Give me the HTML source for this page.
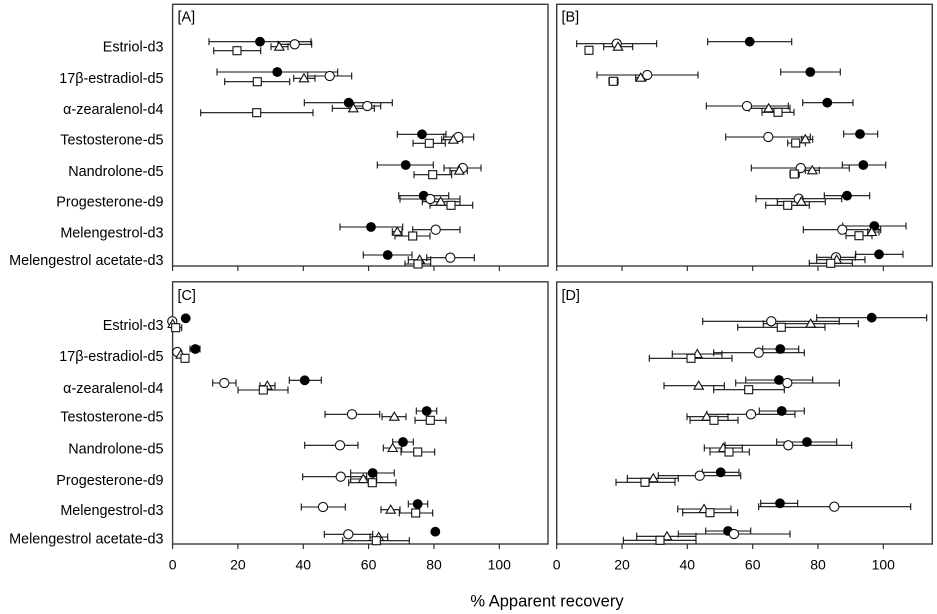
<!DOCTYPE html>
<html><head><meta charset="utf-8"><style>
html,body{margin:0;padding:0;background:#fff;}
svg{display:block;}
text{font-family:"Liberation Sans",Arial,sans-serif;fill:#000;}
</style></head><body>
<svg width="937" height="614" viewBox="0 0 937 614" xmlns="http://www.w3.org/2000/svg">
<!-- frames -->
<g fill="none" stroke="#3a3a3a" stroke-width="1.4">
<rect x="172.6" y="4.3" width="375.4" height="261.7"/>
<rect x="556.7" y="4.3" width="375.6" height="261.7"/>
<rect x="172.6" y="281.8" width="375.4" height="262.2"/>
<rect x="556.7" y="282" width="375.6" height="262"/>
</g>
<!-- ticks -->
<g stroke="#222" stroke-width="1.1">
<path d="M172.6 266V271M237.9 266V271M303.3 266V271M368.6 266V271M434 266V271M499.3 266V271"/>
<path d="M556.7 266V271M622 266V271M687.3 266V271M752.7 266V271M818 266V271M883.3 266V271"/>
<path d="M172.6 544V549M237.9 544V549M303.3 544V549M368.6 544V549M434 544V549M499.3 544V549"/>
<path d="M556.7 544V549M622 544V549M687.3 544V549M752.7 544V549M818 544V549M883.3 544V549"/>
</g>
<!-- tick labels -->
<g font-size="14" text-anchor="middle">
<text x="172.6" y="569.5">0</text><text x="237.9" y="569.5">20</text><text x="303.3" y="569.5">40</text><text x="368.6" y="569.5">60</text><text x="434" y="569.5">80</text><text x="499.3" y="569.5">100</text>
<text x="556.7" y="569.5">0</text><text x="622" y="569.5">20</text><text x="687.3" y="569.5">40</text><text x="752.7" y="569.5">60</text><text x="818" y="569.5">80</text><text x="883.3" y="569.5">100</text>
</g>
<text x="547" y="606.5" font-size="16.5" text-anchor="middle">% Apparent recovery</text>
<!-- panel letters -->
<g font-size="14.4">
<text x="177.5" y="21.5">[A]</text>
<text x="561.5" y="21.5">[B]</text>
<text x="177.5" y="300">[C]</text>
<text x="561.5" y="300">[D]</text>
</g>
<!-- y labels -->
<g font-size="14.4" text-anchor="end">
<text x="163.5" y="51.7">Estriol-d3</text>
<text x="163.5" y="83">17β-estradiol-d5</text>
<text x="163.5" y="114">α-zearalenol-d4</text>
<text x="163.5" y="144.7">Testosterone-d5</text>
<text x="163.5" y="176">Nandrolone-d5</text>
<text x="163.5" y="206.7">Progesterone-d9</text>
<text x="163.5" y="237.7">Melengestrol-d3</text>
<text x="163.5" y="265">Melengestrol acetate-d3</text>
<text x="163.5" y="330">Estriol-d3</text>
<text x="163.5" y="361">17β-estradiol-d5</text>
<text x="163.5" y="393">α-zearalenol-d4</text>
<text x="163.5" y="421.7">Testosterone-d5</text>
<text x="163.5" y="453.3">Nandrolone-d5</text>
<text x="163.5" y="485">Progesterone-d9</text>
<text x="163.5" y="515">Melengestrol-d3</text>
<text x="163.5" y="543.3">Melengestrol acetate-d3</text>
</g>

<!-- error bars -->
<g fill="none" stroke="#111" stroke-width="1.1">
<!-- Panel A -->
<path d="M209 41.7H311M209 38.2V45.2M311 38.2V45.2
M278 44.3H311.7M278 40.8V47.8M311.7 40.8V47.8
M271 46.7H288M271 43.2V50.2M288 43.2V50.2
M213.7 50.7H260.7M213.7 47.2V54.2M260.7 47.2V54.2
M217 72H337.7M217 68.5V75.5M337.7 68.5V75.5
M307.7 76H351.7M307.7 72.5V79.5M351.7 72.5V79.5
M293.7 78.3H315M293.7 74.8V81.8M315 74.8V81.8
M224.7 81.7H289.7M224.7 78.2V85.2M289.7 78.2V85.2
M304.3 102.7H392.3M304.3 99.2V106.2M392.3 99.2V106.2
M354 106H380.7M354 102.5V109.5M380.7 102.5V109.5
M332.3 108.3H374.3M332.3 104.8V111.8M374.3 104.8V111.8
M200.7 112.7H313M200.7 109.2V116.2M313 109.2V116.2
M397.3 134.3H446M397.3 130.8V137.8M446 130.8V137.8
M443.7 137H473.7M443.7 133.5V140.5M473.7 133.5V140.5
M441.7 139.7H462.7M441.7 136.2V143.2M462.7 136.2V143.2
M413 143.3H445.3M413 139.8V146.8M445.3 139.8V146.8
M377.3 165H433.3M377.3 161.5V168.5M433.3 161.5V168.5
M444 168H481M444 164.5V171.5M481 164.5V171.5
M450 170.7H467.3M450 167.2V174.2M467.3 167.2V174.2
M414 174.7H451.7M414 171.2V178.2M451.7 171.2V178.2
M398.7 195.7H448.7M398.7 192.2V199.2M448.7 192.2V199.2
M400 199H460M400 195.5V202.5M460 195.5V202.5
M422.3 201.7H460M422.3 198.2V205.2M460 198.2V205.2
M430 205.3H472.7M430 201.8V208.8M472.7 201.8V208.8
M340 227H402.7M340 223.5V230.5M402.7 223.5V230.5
M412.7 229.7H460M412.7 226.2V233.2M460 226.2V233.2
M392.3 231.7H402M392.3 228.2V235.2M402 228.2V235.2
M395 236H430M395 232.5V239.5M430 232.5V239.5
M363.3 255H412M363.3 251.5V258.5M412 251.5V258.5
M426.7 257.7H474.3M426.7 254.2V261.2M474.3 254.2V261.2
M408.3 259.7H430.7M408.3 256.2V263.2M430.7 256.2V263.2
M405 264H430.7M405 260.5V266M430.7 260.5V266"/>
<!-- Panel B -->
<path d="M707.7 41.7H791.7M707.7 38.2V45.2M791.7 38.2V45.2
M576.7 43.7H656.7M576.7 40.2V47.2M656.7 40.2V47.2
M603.7 46.7H632.7M603.7 43.2V50.2M632.7 43.2V50.2
M780.7 72H840.3M780.7 68.5V75.5M840.3 68.5V75.5
M597 75H698M597 71.5V78.5M698 71.5V78.5
M635.7 77.7H646M635.7 74.2V81.2M646 74.2V81.2
M609 81.3H618M609 77.8V84.8M618 77.8V84.8
M802.7 102.7H853M802.7 99.2V106.2M853 99.2V106.2
M706.3 106H788.3M706.3 102.5V109.5M788.3 102.5V109.5
M749 108.3H790M749 104.8V111.8M790 104.8V111.8
M762 112.3H794M762 108.8V115.8M794 108.8V115.8
M843.7 134H877.7M843.7 130.5V137.5M877.7 130.5V137.5
M725.7 137H810.3M725.7 133.5V140.5M810.3 133.5V140.5
M801.7 139.3H812.7M801.7 135.8V142.8M812.7 135.8V142.8
M787.7 143H805.3M787.7 139.5V146.5M805.3 139.5V146.5
M842.3 165H885.7M842.3 161.5V168.5M885.7 161.5V168.5
M751.3 168H849.3M751.3 164.5V171.5M849.3 164.5V171.5
M805.3 170.3H819.3M805.3 166.8V173.8M819.3 166.8V173.8
M790 174H799.3M790 170.5V177.5M799.3 170.5V177.5
M824.3 195.7H869.7M824.3 192.2V199.2M869.7 192.2V199.2
M756 198.7H841.7M756 195.2V202.2M841.7 195.2V202.2
M777.3 201.7H825.3M777.3 198.2V205.2M825.3 198.2V205.2
M765.7 205.3H809.3M765.7 201.8V208.8M809.3 201.8V208.8
M842.7 226H906M842.7 222.5V229.5M906 222.5V229.5
M803.3 229.7H880.7M803.3 226.2V233.2M880.7 226.2V233.2
M867.7 232H879M867.7 228.5V235.5M879 228.5V235.5
M846 235.7H872M846 232.2V239.2M872 232.2V239.2
M855.7 254.3H903M855.7 250.8V257.8M903 250.8V257.8
M816.7 257.3H855.3M816.7 253.8V260.8M855.3 253.8V260.8
M816.7 259.7H865M816.7 256.2V263.2M865 256.2V263.2
M809.3 263.3H852.3M809.3 259.8V266M852.3 259.8V266"/>
<!-- Panel C -->
<path d="M170 327.7H181.7M181.7 324.2V331.2
M190 349H200M190 345.5V352.5M200 345.5V352.5
M182 358.3H188M188 354.8V361.8
M289.3 380.3H321.3M289.3 376.8V383.8M321.3 376.8V383.8
M212.7 383H236M212.7 379.5V386.5M236 379.5V386.5
M260 385.7H275M260 382.2V389.2M275 382.2V389.2
M238 390H288M238 386.5V393.5M288 386.5V393.5
M416.3 411H436.7M416.3 407.5V414.5M436.7 407.5V414.5
M325 414.3H379.7M325 410.8V417.8M379.7 410.8V417.8
M382 416.7H406M382 413.2V420.2M406 413.2V420.2
M415 420.3H446M415 416.8V423.8M446 416.8V423.8
M392.7 442H413.3M392.7 438.5V445.5M413.3 438.5V445.5
M304.7 445.3H358M304.7 441.8V448.8M358 441.8V448.8
M383.3 448H401.7M383.3 444.5V451.5M401.7 444.5V451.5
M401 452H434.7M401 448.5V455.5M434.7 448.5V455.5
M350.7 473H394.3M350.7 469.5V476.5M394.3 469.5V476.5
M302.7 476.7H366.7M302.7 473.2V480.2M366.7 473.2V480.2
M350.7 479H376.7M350.7 475.5V482.5M376.7 475.5V482.5
M348.7 482.7H396M348.7 479.2V486.2M396 479.2V486.2
M408.3 504H427.7M408.3 500.5V507.5M427.7 500.5V507.5
M301.3 507H345.3M301.3 503.5V510.5M345.3 503.5V510.5
M381 509.7H400M381 506.2V513.2M400 506.2V513.2
M399.3 513H432.7M399.3 509.5V516.5M432.7 509.5V516.5
M324.3 534.3H372.7M324.3 530.8V537.8M372.7 530.8V537.8
M370 537H387.7M370 533.5V540.5M387.7 533.5V540.5
M342.7 540.7H409.3M342.7 537.2V544M409.3 537.2V544"/>
<!-- Panel D -->
<path d="M816.7 317.7H926.7M816.7 314.2V321.2M926.7 314.2V321.2
M702.7 321.3H839.3M702.7 317.8V324.8M839.3 317.8V324.8
M763.3 323.7H858.3M763.3 320.2V327.2M858.3 320.2V327.2
M737.7 327.3H825M737.7 323.8V330.8M825 323.8V330.8
M762.7 349H798.7M762.7 345.5V352.5M798.7 345.5V352.5
M713.7 352.7H804.3M713.7 349.2V356.2M804.3 349.2V356.2
M672.3 354H722M672.3 350.5V357.5M722 350.5V357.5
M649.3 358.3H732M649.3 354.8V361.8M732 354.8V361.8
M745.7 380H812.7M745.7 376.5V383.5M812.7 376.5V383.5
M735.7 383H839.3M735.7 379.5V386.5M839.3 379.5V386.5
M664 385.7H724.3M664 382.2V389.2M724.3 382.2V389.2
M713.7 389.7H784.3M713.7 386.2V393.2M784.3 386.2V393.2
M759.3 411H804.3M759.3 407.5V414.5M804.3 407.5V414.5
M707 414.3H795M707 410.8V417.8M795 410.8V417.8
M687 416.7H728M687 413.2V420.2M728 413.2V420.2
M690 420.3H738M690 416.8V423.8M738 416.8V423.8
M776.7 442H836.7M776.7 438.5V445.5M836.7 438.5V445.5
M725 445.3H851.7M725 441.8V448.8M851.7 441.8V448.8
M704.3 448H742.3M704.3 444.5V451.5M742.3 444.5V451.5
M710 452H749.3M710 448.5V455.5M749.3 448.5V455.5
M702.3 472.3H739M702.3 468.8V475.8M739 468.8V475.8
M658.3 475.7H740.7M658.3 472.2V479.2M740.7 472.2V479.2
M627.3 478.3H678.3M627.3 474.8V481.8M678.3 474.8V481.8
M616 482.3H675M616 478.8V485.8M675 478.8V485.8
M760.7 503.3H797.7M760.7 499.8V506.8M797.7 499.8V506.8
M758.7 506.7H910.7M758.7 503.2V510.2M910.7 503.2V510.2
M677.7 509H731M677.7 505.5V512.5M731 505.5V512.5
M682.7 512.7H737.7M682.7 509.2V516.2M737.7 509.2V516.2
M705.7 531H750.7M705.7 527.5V534.5M750.7 527.5V534.5
M678.3 534H790M678.3 530.5V537.5M790 530.5V537.5
M636.7 536.3H696M636.7 532.8V539.8M696 532.8V539.8
M623.3 540.3H696M623.3 536.8V544M696 536.8V544"/>
</g>

<!-- filled circles -->
<g fill="#000" stroke="#000" stroke-width="0.8">
<circle cx="260" cy="41.7" r="4.5"/><circle cx="277.3" cy="72" r="4.5"/><circle cx="348.7" cy="102.7" r="4.5"/><circle cx="422" cy="134.3" r="4.5"/><circle cx="405.7" cy="165" r="4.5"/><circle cx="423.7" cy="195.7" r="4.5"/><circle cx="371" cy="227" r="4.5"/><circle cx="387.7" cy="255" r="4.5"/>
<circle cx="749.7" cy="41.7" r="4.5"/><circle cx="810.3" cy="72" r="4.5"/><circle cx="827.3" cy="102.7" r="4.5"/><circle cx="860" cy="134" r="4.5"/><circle cx="863.3" cy="165" r="4.5"/><circle cx="847" cy="195.7" r="4.5"/><circle cx="874.3" cy="226" r="4.5"/><circle cx="879" cy="254.3" r="4.5"/>
<circle cx="185.7" cy="318.3" r="4.5"/><circle cx="195.3" cy="349" r="4.5"/><circle cx="304.7" cy="380.3" r="4.5"/><circle cx="426.7" cy="411" r="4.5"/><circle cx="403" cy="442" r="4.5"/><circle cx="372.7" cy="473" r="4.5"/><circle cx="417.7" cy="504" r="4.5"/><circle cx="435.3" cy="531.7" r="4.5"/>
<circle cx="871.7" cy="317.7" r="4.5"/><circle cx="780.3" cy="349" r="4.5"/><circle cx="779" cy="380" r="4.5"/><circle cx="781.7" cy="411" r="4.5"/><circle cx="807" cy="442" r="4.5"/><circle cx="720.7" cy="472.3" r="4.5"/><circle cx="780" cy="503.3" r="4.5"/><circle cx="728" cy="531" r="4.5"/>
</g>
<!-- open circles -->
<g fill="#fff" stroke="#111" stroke-width="1.1">
<circle cx="294.7" cy="44.3" r="4.6"/><circle cx="329.7" cy="76" r="4.6"/><circle cx="367.3" cy="106" r="4.6"/><circle cx="458.3" cy="137" r="4.6"/><circle cx="462.7" cy="168" r="4.6"/><circle cx="430.3" cy="199" r="4.6"/><circle cx="435.7" cy="229.7" r="4.6"/><circle cx="450.3" cy="257.7" r="4.6"/>
<circle cx="616.7" cy="43.7" r="4.6"/><circle cx="647.3" cy="75" r="4.6"/><circle cx="747" cy="106" r="4.6"/><circle cx="768.3" cy="137" r="4.6"/><circle cx="800.7" cy="168" r="4.6"/><circle cx="798.7" cy="198.7" r="4.6"/><circle cx="842.3" cy="229.7" r="4.6"/><circle cx="836" cy="257.3" r="4.6"/>
<circle cx="172.3" cy="321.3" r="4.6"/><circle cx="177.3" cy="352" r="4.6"/><circle cx="224.3" cy="383" r="4.6"/><circle cx="352" cy="414.3" r="4.6"/><circle cx="340" cy="445.3" r="4.6"/><circle cx="340.7" cy="476.7" r="4.6"/><circle cx="323" cy="507" r="4.6"/><circle cx="348.3" cy="534.3" r="4.6"/>
<circle cx="771.3" cy="321.3" r="4.6"/><circle cx="758.7" cy="352.7" r="4.6"/><circle cx="787.3" cy="383" r="4.6"/><circle cx="751" cy="414.3" r="4.6"/><circle cx="788.3" cy="445.3" r="4.6"/><circle cx="699.7" cy="475.7" r="4.6"/><circle cx="834.3" cy="506.7" r="4.6"/><circle cx="734" cy="534" r="4.6"/>
</g>
<!-- triangles -->
<g fill="#fff" stroke="#111" stroke-width="1.1">
<path d="M279.3 42.2L274.6 50.2H284Z M304 73.8L299.3 81.8H308.7Z M353.3 103.8L348.6 111.8H358Z M453.3 135.2L448.6 143.2H458Z M459.3 166.2L454.6 174.2H464Z M440.7 197.2L436 205.2H445.4Z M397.3 227.2L392.6 235.2H402Z M419.7 255.2L415 263.2H424.4Z"/>
<path d="M618 42.2L613.3 50.2H622.7Z M640.7 73.2L636 81.2H645.4Z M768.7 103.8L764 111.8H773.4Z M805.3 134.8L800.6 142.8H810Z M812.3 165.8L807.6 173.8H817Z M801.3 197.2L796.6 205.2H806Z M871.7 227.5L867 235.5H876.4Z M836.7 255.2L832 263.2H841.4Z"/>
<path d="M172.7 319.5L168 327.5H177.4Z M180.7 350.2L176 358.2H185.4Z M267.3 381.2L262.6 389.2H272Z M394.3 412.2L389.6 420.2H399Z M392.7 443.5L388 451.5H397.4Z M363.3 474.5L358.6 482.5H368Z M390.7 505.2L386 513.2H395.4Z M378.7 532.5L374 540.5H383.4Z"/>
<path d="M810.7 319.2L806 327.2H815.4Z M697.3 349.5L692.6 357.5H702Z M698.7 381.2L694 389.2H703.4Z M706.7 412.2L702 420.2H711.4Z M723.3 443.5L718.6 451.5H728Z M653.3 473.8L648.6 481.8H658Z M704 504.5L699.3 512.5H708.7Z M667 531.8L662.3 539.8H671.7Z"/>
</g>
<!-- squares -->
<g fill="#fff" stroke="#111" stroke-width="1.1">
<rect x="233" y="46.7" width="8" height="8"/><rect x="253.3" y="77.7" width="8" height="8"/><rect x="252.7" y="108.7" width="8" height="8"/><rect x="425.3" y="139.3" width="8" height="8"/><rect x="428.7" y="170.7" width="8" height="8"/><rect x="447" y="201.3" width="8" height="8"/><rect x="408.7" y="232" width="8" height="8"/><rect x="414" y="260" width="8" height="8"/>
<rect x="585" y="46.3" width="8" height="8"/><rect x="609.3" y="77.3" width="8" height="8"/><rect x="774" y="108.3" width="8" height="8"/><rect x="791.7" y="139" width="8" height="8"/><rect x="790.3" y="170" width="8" height="8"/><rect x="783.7" y="201.3" width="8" height="8"/><rect x="855" y="231.7" width="8" height="8"/><rect x="826.7" y="259.3" width="8" height="8"/>
<rect x="171.7" y="323.7" width="8" height="8"/><rect x="181" y="354.3" width="8" height="8"/><rect x="259.3" y="386" width="8" height="8"/><rect x="426.3" y="416.3" width="8" height="8"/><rect x="413.7" y="448" width="8" height="8"/><rect x="368.3" y="478.7" width="8" height="8"/><rect x="411.7" y="509" width="8" height="8"/><rect x="372.3" y="536.7" width="8" height="8"/>
<rect x="777.3" y="323.3" width="8" height="8"/><rect x="687" y="354.3" width="8" height="8"/><rect x="744.7" y="385.7" width="8" height="8"/><rect x="710" y="416.3" width="8" height="8"/><rect x="725" y="448" width="8" height="8"/><rect x="641" y="478.3" width="8" height="8"/><rect x="706" y="508.7" width="8" height="8"/><rect x="656" y="536.3" width="8" height="8"/>
</g>
</svg>
</body></html>
